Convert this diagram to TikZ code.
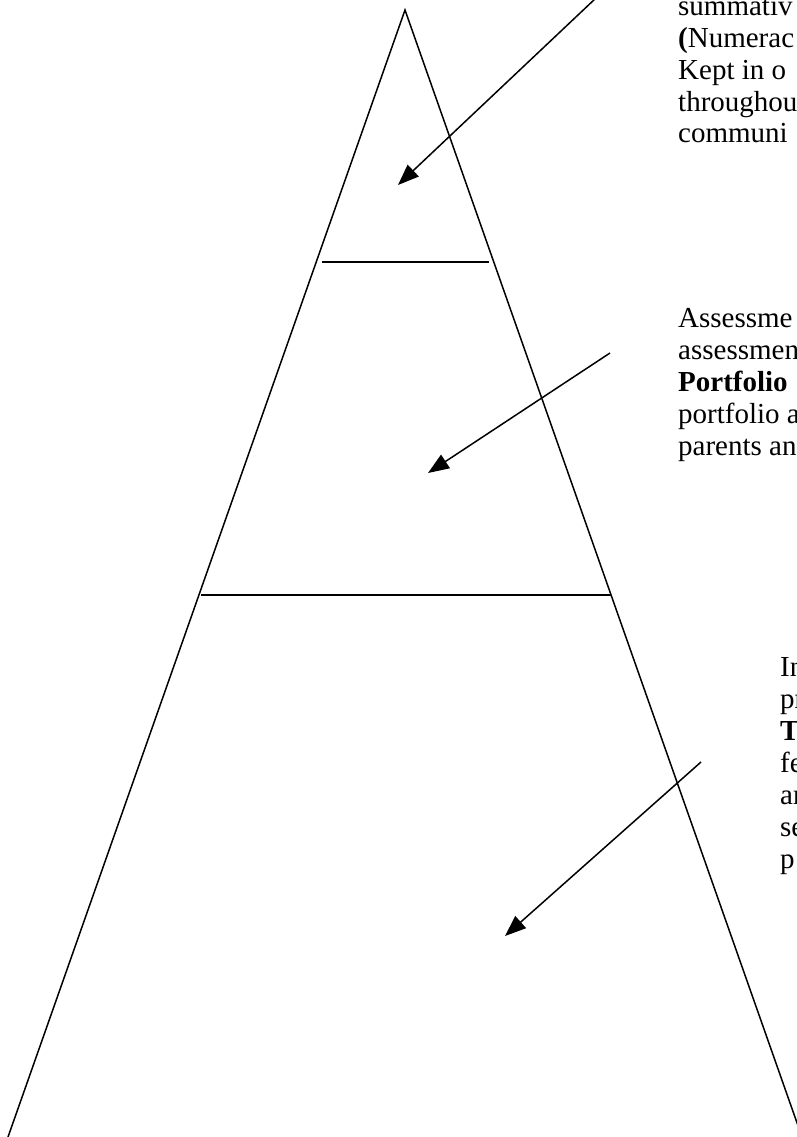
\documentclass[tikz,border=0pt]{standalone}
\usepackage{fontspec}
\setmainfont{Liberation Serif}
\usetikzlibrary{arrows.meta}
\tikzset{
  edge/.style={line width=1.5pt, black},
  pointer/.style={line width=1.5pt, black, -{Triangle[length=21pt,width=16pt]}},
  txt/.style={anchor=base west, inner sep=0pt, font=\fontsize{29pt}{31.7pt}\selectfont}
}
\begin{document}
\begin{tikzpicture}[x=1pt,y=-1pt]
\useasboundingbox (0,0) rectangle (797,1137);
\clip (0,0) rectangle (797,1137);
% pyramid
\coordinate (apex) at (405,10);
\coordinate (bl) at (8,1137);
\coordinate (br) at (802,1137);
\draw[edge] (bl) -- (apex) -- (br);
\coordinate (h1l) at (322,262);
\coordinate (h1r) at (489,262);
\coordinate (h2l) at (201,595);
\coordinate (h2r) at (611,595);
\draw[edge] (h1l) -- (h1r);
\draw[edge] (h2l) -- (h2r);
% arrows
\coordinate (a1s) at (596,-2);
\coordinate (a1e) at (398,185);
\coordinate (a2s) at (610,353);
\coordinate (a2e) at (428,473);
\coordinate (a3s) at (701,762);
\coordinate (a3e) at (505,936);
\draw[pointer] (a1s) -- (a1e);
\draw[pointer] (a2s) -- (a2e);
\draw[pointer] (a3s) -- (a3e);
% block 1
\node[txt] (t1a) at (678,16) {summativ};
\node[txt] (t1b) at (678,47.7) {\textbf{(}Numerac};
\node[txt] (t1c) at (678,79.4) {Kept in o};
\node[txt] (t1d) at (678,111.1) {throughou};
\node[txt] (t1e) at (678,142.8) {communi};
% block 2
\node[txt] (t2a) at (678,327) {Assessme};
\node[txt] (t2b) at (678,359) {assessmen};
\node[txt] (t2c) at (678,391) {\textbf{Portfolio}};
\node[txt] (t2d) at (678,423) {portfolio a};
\node[txt] (t2e) at (678,455) {parents an};
% block 3
\node[txt] (t3a) at (780,676) {In};
\node[txt] (t3b) at (780,708) {pr};
\node[txt] (t3c) at (780,740) {\textbf{T}};
\node[txt] (t3d) at (780,772) {fe};
\node[txt] (t3e) at (780,804) {ar};
\node[txt] (t3f) at (780,836) {se};
\node[txt] (t3g) at (780,868) {p};
\end{tikzpicture}
\end{document}
